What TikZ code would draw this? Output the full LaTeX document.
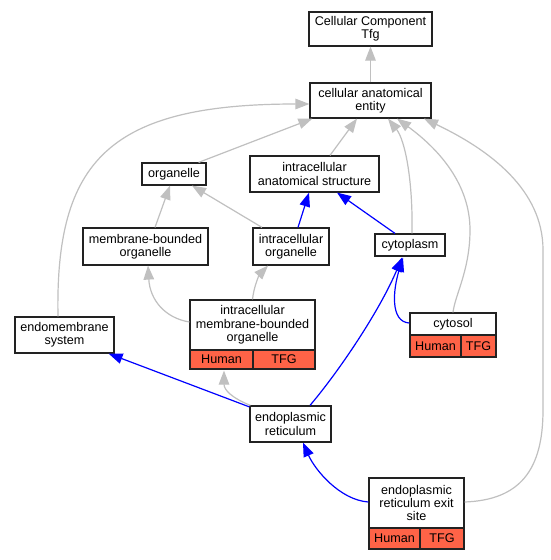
\documentclass[tikz,border=0pt]{standalone}
\usepackage{fontspec}
\setmainfont{Liberation Sans}
\usetikzlibrary{arrows.meta,calc}
\definecolor{tomato}{HTML}{FF6347}
\definecolor{edgegray}{HTML}{C0C0C0}
\definecolor{boxline}{HTML}{222222}
\begin{document}
\begin{tikzpicture}[x=1pt,y=-1pt,
  box/.style={draw=boxline, line width=1.2pt, fill=white, inner sep=0pt, align=center,
    font=\fontsize{12.6}{13.4}\selectfont},
  cell/.style={box, fill=tomato},
  gedge/.style={draw=edgegray, line width=1.2pt, -{Triangle[length=14pt,width=10.5pt,fill=edgegray]}},
  bedge/.style={draw=blue, line width=1.2pt, -{Triangle[length=14pt,width=10.5pt,fill=blue]}}]
\useasboundingbox (0,0) rectangle (550,560);
\fill[white] (0,0) rectangle (550,560);
% nodes
\node[box, minimum width=123pt, minimum height=34pt] (cct) at (370.5,29) {Cellular Component\\Tfg};
\node[box, minimum width=121pt, minimum height=35pt] (cae) at (370.5,100.5) {cellular anatomical\\entity};
\node[box, minimum width=64pt, minimum height=22pt] (org) at (174,174) {organelle};
\node[box, minimum width=129pt, minimum height=36pt] (ias) at (314.5,174) {intracellular\\anatomical structure};
\node[box, minimum width=125pt, minimum height=37pt] (mbo) at (145.5,246.5) {membrane-bounded\\organelle};
\node[box, minimum width=76pt, minimum height=37pt] (io) at (291,246.5) {intracellular\\organelle};
\node[box, minimum width=70pt, minimum height=22pt] (cyto) at (410,245) {cytoplasm};
\node[box, minimum width=125pt, minimum height=50pt] (imbo) at (252.5,325) {intracellular\\membrane-bounded\\organelle};
\node[cell, minimum width=63pt, minimum height=19pt] (imboh) at (221.5,359.5) {Human};
\node[cell, minimum width=62pt, minimum height=19pt] (imbot) at (284,359.5) {TFG};
\node[box, minimum width=99pt, minimum height=36pt] (ems) at (64.5,335) {endomembrane\\system};
\node[box, minimum width=86pt, minimum height=22pt] (csol) at (453,324) {cytosol};
\node[cell, minimum width=51pt, minimum height=22pt] (csolh) at (435.5,346) {Human};
\node[cell, minimum width=35pt, minimum height=22pt] (csolt) at (478.5,346) {TFG};
\node[box, minimum width=81pt, minimum height=36pt] (er) at (290.5,424) {endoplasmic\\reticulum};
\node[box, minimum width=95pt, minimum height=50pt] (eres) at (416.5,503) {endoplasmic\\reticulum exit\\site};
\node[cell, minimum width=51pt, minimum height=21pt] (eresh) at (394.5,538.5) {Human};
\node[cell, minimum width=44pt, minimum height=21pt] (erest) at (442,538.5) {TFG};
% gray edges
\draw[gedge] (cae.north) -- (cct.south);
\draw[gedge] ($(org.north east)+(-8,0)$) -- ($(cae.south west)+(3,0)$);
\draw[gedge] ($(ems.north)+(-6.5,0)$) .. controls (55,160) and (110,104) .. ($(cae.west)+(0,3.5)$);
\draw[gedge] ($(ias.north)+(15.5,0)$) -- ($(cae.south)+(-13.5,0)$);
\draw[gedge] ($(cyto.north)+(2,0)$) .. controls (413,180) and (405,140) .. ($(cae.south)+(17.5,0)$);
\draw[gedge] (csol.north) .. controls (455,295) and (470,270) .. (470,230)
   .. controls (470,185) and (440,150) .. ($(cae.south)+(26.5,0)$);
\draw[gedge] ($(eres.east)+(0,-1)$) .. controls (520,500) and (543,470) .. (543,410) -- (543,250)
   .. controls (543,190) and (490,150) .. ($(cae.south)+(53.5,0)$);
\draw[gedge] ($(mbo.north)+(9.5,0)$) -- ($(org.south)+(-4,0)$);
\draw[gedge] ($(io.north)+(-29,0)$) -- ($(org.south)+(18,0)$);
\draw[gedge] ($(imbo.west)+(0,-3)$) .. controls (165,318) and (150,300) .. ($(mbo.south)+(2.5,0)$);
\draw[gedge] (imbo.north) .. controls (254,285) and (260,274) .. ($(io.south)+(-23,0)$);
\draw[gedge] ($(er.north west)+(1,0)$) .. controls (232,398) and (224,390) .. ($(imboh.south)+(2.5,1)$);
% blue edges
\draw[bedge] ($(io.north)+(7,0)$) -- ($(ias.south)+(-5.5,0)$);
\draw[bedge] ($(cyto.north)+(-15,0)$) -- ($(ias.south)+(22.5,0)$);
\draw[bedge] ($(er.north west)+(0,1.5)$) -- ($(ems.south east)+(-6,0)$);
\draw[bedge] ($(er.north)+(19.5,0)$) .. controls (340,370) and (380,310) .. ($(cyto.south)+(-8,1)$);
\draw[bedge] ($(csol.west)+(0,-1)$) .. controls (390,322) and (393,290) .. ($(cyto.south)+(-7,1)$);
\draw[bedge] ($(eres.west)+(0,-1)$) .. controls (340,500) and (315,470) .. ($(er.south)+(12.5,0)$);
\end{tikzpicture}
\end{document}
